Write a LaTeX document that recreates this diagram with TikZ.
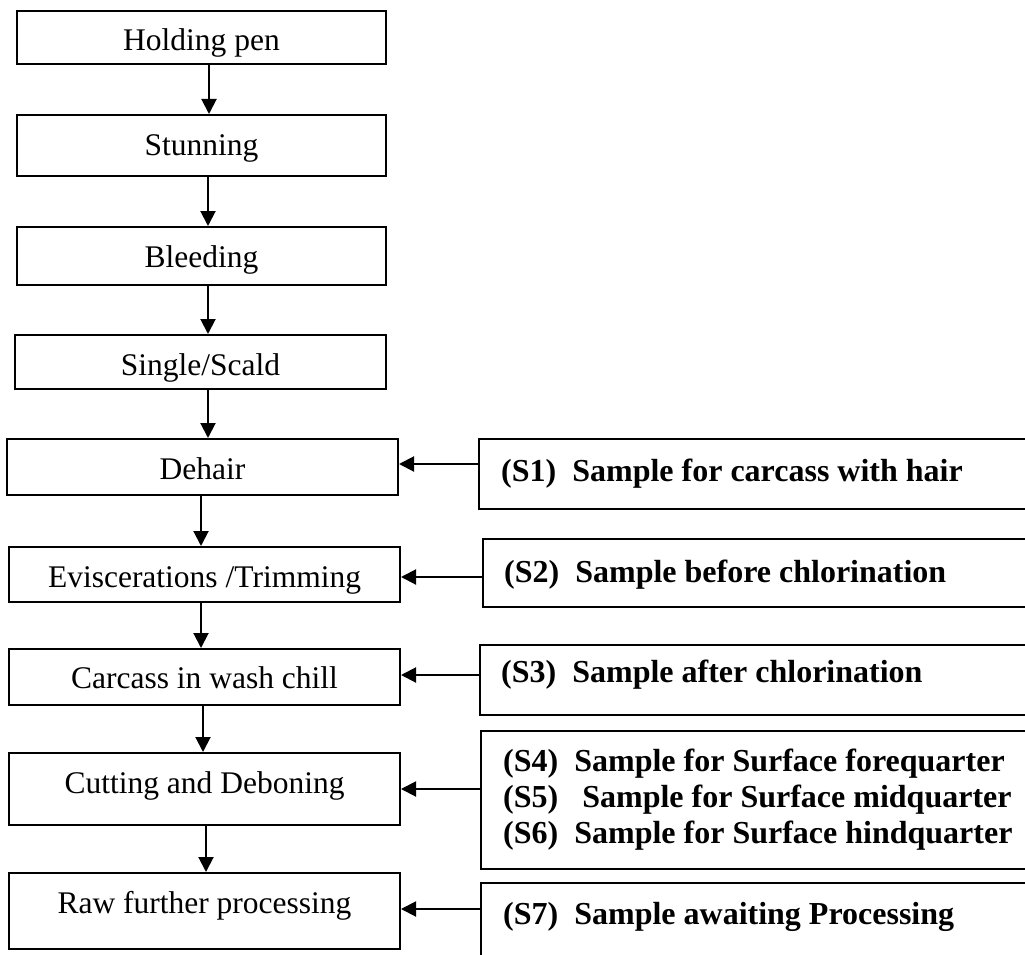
\documentclass[tikz,border=0pt]{standalone}
\usepackage{fontspec}
\setmainfont{Liberation Serif}
\usetikzlibrary{arrows.meta}
\tikzset{
  stagebox/.style={draw=black, line width=2pt, rectangle, inner sep=0pt},
  stagetext/.style={anchor=base, inner sep=0pt, font=\fontsize{31.5}{36}\selectfont},
  sampletext/.style={anchor=base west, inner sep=0pt, font=\bfseries\fontsize{32}{36}\selectfont},
  arr/.style={line width=2pt, -{Triangle[width=15pt,length=15pt]}}
}
\begin{document}
\begin{tikzpicture}[x=1pt,y=-1pt]
\useasboundingbox (0,0) rectangle (1025,955);
\clip (0,0) rectangle (1025,955);

% process stages
\node[stagebox, minimum width=369pt, minimum height=53pt] (b1) at (201.5,37.5) {};
\node[stagebox, minimum width=369pt, minimum height=61pt] (b2) at (201.5,145.5) {};
\node[stagebox, minimum width=369pt, minimum height=58pt] (b3) at (201.5,256) {};
\node[stagebox, minimum width=371pt, minimum height=54pt] (b4) at (200.5,362) {};
\node[stagebox, minimum width=391pt, minimum height=56pt] (b5) at (202.5,467) {};
\node[stagebox, minimum width=391pt, minimum height=55pt] (b6) at (204.5,574.5) {};
\node[stagebox, minimum width=391pt, minimum height=56pt] (b7) at (204.5,677) {};
\node[stagebox, minimum width=391pt, minimum height=72pt] (b8) at (204.5,789) {};
\node[stagebox, minimum width=391pt, minimum height=76pt] (b9) at (204.5,911) {};

\node[stagetext] (t1) at (201.5,51) {Holding pen};
\node[stagetext] (t2) at (201.5,155) {Stunning};
\node[stagetext] (t3) at (201.5,267) {Bleeding};
\node[stagetext] (t4) at (200.5,375) {Single/Scald};
\node[stagetext] (t5) at (202.5,479) {Dehair};
\node[stagetext] (t6) at (204.5,587) {Eviscerations /Trimming};
\node[stagetext] (t7) at (204.5,688) {Carcass in wash chill};
\node[stagetext] (t8) at (204.5,793) {Cutting and Deboning};
\node[stagetext] (t9) at (204.5,913) {Raw further processing};

% sampling points (boxes run past the right edge)
\node[stagebox, minimum width=600pt, minimum height=70pt] (s1) at (779,474) {};
\node[stagebox, minimum width=600pt, minimum height=68pt] (s2) at (783,573) {};
\node[stagebox, minimum width=600pt, minimum height=70pt] (s3) at (780,680) {};
\node[stagebox, minimum width=600pt, minimum height=138pt] (s4) at (781,800) {};
\node[stagebox, minimum width=600pt, minimum height=100pt] (s7) at (781,933) {};

\node[sampletext] (u1) at (501,481) {(S1)\ \ Sample for carcass with hair};
\node[sampletext] (u2) at (504,582) {(S2)\ \ Sample before chlorination};
\node[sampletext] (u3) at (501,682) {(S3)\ \ Sample after chlorination};
\node[sampletext] (u4) at (503,771) {(S4)\ \ Sample for Surface forequarter};
\node[sampletext] (u5) at (503,807) {(S5)\ \ \ Sample for Surface midquarter};
\node[sampletext] (u6) at (503,843) {(S6)\ \ Sample for Surface hindquarter};
\node[sampletext] (u7) at (503,924) {(S7)\ \ Sample awaiting Processing};

% flow between stages
\draw[arr] (209,0 |- b1.south) -- (209,0 |- b2.north);
\draw[arr] (208,0 |- b2.south) -- (208,0 |- b3.north);
\draw[arr] (208,0 |- b3.south) -- (208,0 |- b4.north);
\draw[arr] (208,0 |- b4.south) -- (208,0 |- b5.north);
\draw[arr] (201,0 |- b5.south) -- (201,0 |- b6.north);
\draw[arr] (201,0 |- b6.south) -- (201,0 |- b7.north);
\draw[arr] (203,0 |- b7.south) -- (203,0 |- b8.north);
\draw[arr] (206,0 |- b8.south) -- (206,0 |- b9.north);

% samples taken at stages
\draw[arr] (s1.west |- 0,464) -- (b5.east |- 0,464);
\draw[arr] (s2.west |- 0,577) -- (b6.east |- 0,577);
\draw[arr] (s3.west |- 0,675) -- (b7.east |- 0,675);
\draw[arr] (s4.west |- 0,789) -- (b8.east |- 0,789);
\draw[arr] (s7.west |- 0,909) -- (b9.east |- 0,909);
\end{tikzpicture}
\end{document}
